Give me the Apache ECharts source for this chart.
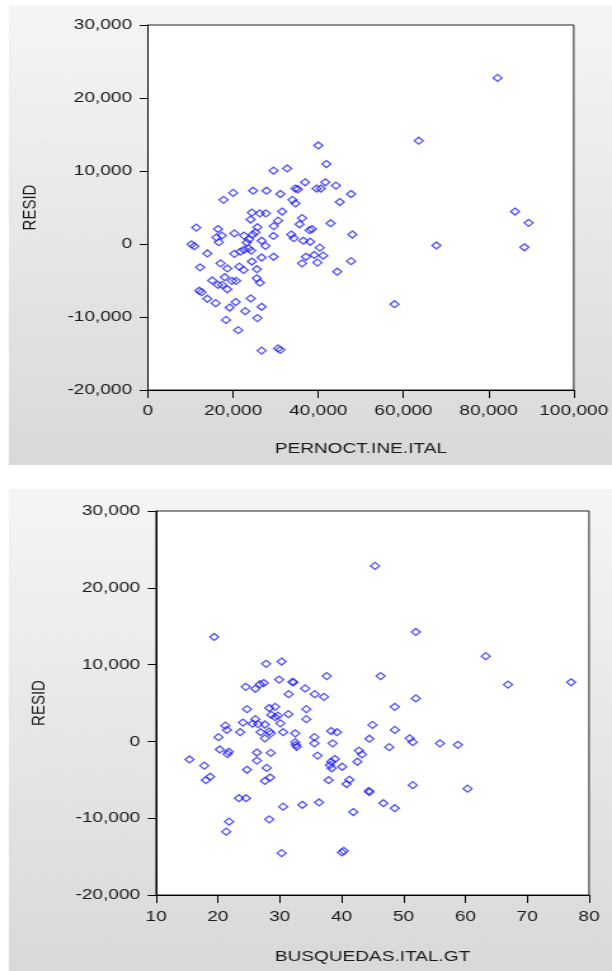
<!DOCTYPE html>
<html>
<head>
<meta charset="utf-8">
<script src="https://cdn.jsdelivr.net/npm/echarts@6/dist/echarts.min.js"></script>
<style>
html,body{margin:0;padding:0;background:#ffffff;overflow:hidden;}
/* the reference picture is stretched horizontally (~1.27x); draw at 482px and stretch to 612px */
#chart{width:482px;height:971px;transform:scaleX(1.2697);transform-origin:0 0;}
</style>
</head>
<body>
<div id="chart"></div>
<script>
// Panel 1: RESID vs PERNOCT.INE.ITAL
var pernoctX = [40000,41900,29500,32700,17750,20000,24700,27850,31100,33950,34650,34650,35200,36900,39600,40600,41650,44150,47700,45050,
  24400,26300,27700,31500,36200,30550,24100,35600,42900,11350,16450,25700,29550,37950,38500,48000,16100,17350,16650,20300,
  22550,24600,25250,23750,26700,27600,29500,33650,34250,36500,38100,40350,10250,10900,13950,20300,21700,22550,23200,23600,
  24250,26700,29500,24400,36200,37100,39050,39800,41150,47700,44450,12250,17050,18650,21450,22450,25600,15100,16450,17450,
  18050,18650,19750,20700,25550,26300,12050,12600,13950,15900,19200,20600,22850,24150,26700,18350,25700,21200,26700,30550,
  31100,57900,63600,67750,82100,86200,89400,88400];
var resid1 = [13500,10950,10050,10350,6050,7000,7300,7300,6850,6050,5550,7600,7500,8450,7600,7600,8450,8000,6850,5750,
  4300,4200,4200,4450,3550,3200,3350,2700,2850,2250,2050,2300,2450,1900,2050,1300,900,1150,250,1450,
  1150,1300,1600,650,450,-250,1100,1300,800,450,300,-500,-50,-300,-1300,-1350,-1050,-800,200,-600,
  -900,-1850,-1750,-2400,-2650,-1750,-1500,-2550,-1600,-2350,-3800,-3200,-2650,-3350,-3100,-3550,-3450,-5000,-5600,-5600,
  -4550,-6200,-5050,-5050,-4700,-5300,-6400,-6600,-7500,-8100,-8700,-7950,-9200,-7450,-8600,-10400,-10150,-11800,-14600,-14300,
  -14500,-8250,14150,-200,22750,4450,2900,-450];

// Panel 2: RESID vs BUSQUEDAS.ITAL.GT
var busquedasX = [19.4,27.8,30.3,37.6,24.5,26.05,26.8,27.4,29.9,32.05,32.2,34.1,35.65,37.15,31.45,24.7,28.3,29.25,29.7,29.25,
  28.65,31.4,34.3,34.3,24.05,26.05,25.6,26.5,27.6,21.2,21.45,23.6,26.9,27.6,28.3,28.55,30.1,30.55,32.5,20.1,
  20.3,21.75,21.55,15.4,17.8,18.75,18.05,24.7,26.3,26.3,28.55,27.9,28.45,27.6,32.5,32.6,32.75,35.6,35.6,38.55,
  38.3,39.25,36.1,38.3,38.9,38.1,38.4,40.1,37.9,41.25,40.8,42.8,43.3,42.55,44.5,44.4,44.5,23.4,24.55,30.55,
  33.65,36.35,41.9,28.3,21.8,21.35,30.3,40.05,40.35,45.4,52.0,63.3,77.1,66.9,46.3,52.0,48.6,45.0,48.6,51.0,
  51.5,55.9,58.8,47.7,51.5,60.35,46.75,48.6];
var resid2 = [13600,10100,10400,8500,7100,6850,7450,7600,8050,7750,7700,6900,6150,5800,6150,4200,4350,4500,3350,3150,
  3450,3550,4200,2900,2450,2900,2300,2250,2200,2050,1500,1200,1200,400,1300,1050,2350,1200,1050,550,
  -1050,-1350,-1650,-2350,-3150,-4600,-5050,-3700,-1450,-2500,-1500,-3450,-4700,-5150,-100,-450,-700,550,-250,-250,
  1350,1200,-1850,-2650,-2300,-3100,-3500,-3300,-5050,-5000,-5550,-1200,-1700,-2650,350,-6450,-6600,-7400,-7400,-8500,
  -8250,-7950,-9200,-10150,-10450,-11750,-14550,-14450,-14250,22850,14250,11100,7700,7400,8500,5600,4500,2150,1500,400,
  -100,-250,-450,-750,-5700,-6150,-8050,-8700];

var yTicks = {min: -20000, max: 30000, interval: 10000};
var x1Ticks = {min: 0, max: 100000, interval: 20000};
var x2Ticks = {min: 10, max: 80, interval: 10};
var yName = 'RESID';
var x1Name = 'PERNOCT.INE.ITAL';
var x2Name = 'BUSQUEDAS.ITAL.GT';

function pairs(xs, ys) {
  var out = [];
  for (var i = 0; i < xs.length; i++) out.push([xs[i], ys[i]]);
  return out;
}

var FONT = '"Liberation Sans", Arial, sans-serif';
var TXT = '#1a1a1a';
function axisCommon(tickLen) {
  return {
    axisLine: {show: true, onZero: false, lineStyle: {color: '#000', width: 1}},
    axisTick: {show: true, inside: false, length: tickLen, lineStyle: {color: '#000', width: 1}},
    splitLine: {show: false},
    axisLabel: {color: TXT, fontSize: 15, fontFamily: FONT, lineHeight: 15},
    nameTextStyle: {color: TXT, fontSize: 15, fontFamily: FONT, lineHeight: 15}
  };
}
function mk(tickLen, extra) {
  var o = axisCommon(tickLen);
  for (var k in extra) {
    if (typeof extra[k] === 'object' && o[k] && !Array.isArray(extra[k])) {
      for (var kk in extra[k]) o[k][kk] = extra[k][kk];
    } else o[k] = extra[k];
  }
  return o;
}

var grad = {type: 'linear', x: 0, y: 0, x2: 0, y2: 1,
  colorStops: [{offset: 0, color: '#f5f5f5'}, {offset: 1, color: '#d9d9d9'}]};

var diamond = 'path://M0,-1 L1,0 L0,1 L-1,0 Z';
var sym = {
  symbol: diamond,
  symbolSize: [7, 7],
  itemStyle: {color: 'rgba(0,0,0,0)', borderColor: '#2222ff', borderWidth: 1.25},
  emphasis: {disabled: true}
};

var chart = echarts.init(document.getElementById('chart'), null, {renderer: 'canvas'});
chart.setOption({
  animation: false,
  backgroundColor: '#ffffff',
  graphic: [
    {type: 'rect', z: -10, shape: {x: 7, y: 5, width: 475, height: 460}, style: {fill: grad}},
    {type: 'rect', z: -10, shape: {x: 7, y: 489, width: 475, height: 482}, style: {fill: grad}}
  ],
  grid: [
    {left: 116.5, top: 25, width: 340.2, height: 365, show: true, backgroundColor: '#ffffff', borderColor: '#222', borderWidth: 1},
    {left: 122.9, top: 511, width: 341, height: 384, show: true, backgroundColor: '#ffffff', borderColor: '#222', borderWidth: 1}
  ],
  xAxis: [
    mk(8, {type: 'value', gridIndex: 0, min: x1Ticks.min, max: x1Ticks.max, interval: x1Ticks.interval,
      name: x1Name, nameLocation: 'middle', nameGap: 51, axisLabel: {margin: 13}}),
    mk(8, {type: 'value', gridIndex: 1, min: x2Ticks.min, max: x2Ticks.max, interval: x2Ticks.interval,
      name: x2Name, nameLocation: 'middle', nameGap: 54, axisLabel: {margin: 14}})
  ],
  yAxis: [
    mk(6.5, {type: 'value', gridIndex: 0, min: yTicks.min, max: yTicks.max, interval: yTicks.interval,
      name: yName, nameLocation: 'middle', nameRotate: 90, nameGap: 85, axisLabel: {margin: 12.5}}),
    mk(6.5, {type: 'value', gridIndex: 1, min: yTicks.min, max: yTicks.max, interval: yTicks.interval,
      name: yName, nameLocation: 'middle', nameRotate: 90, nameGap: 85, axisLabel: {margin: 12.5}})
  ],
  series: [
    Object.assign({type: 'scatter', xAxisIndex: 0, yAxisIndex: 0, data: pairs(pernoctX, resid1)}, sym),
    Object.assign({type: 'scatter', xAxisIndex: 1, yAxisIndex: 1, data: pairs(busquedasX, resid2)}, sym)
  ]
});
</script>
</body>
</html>
